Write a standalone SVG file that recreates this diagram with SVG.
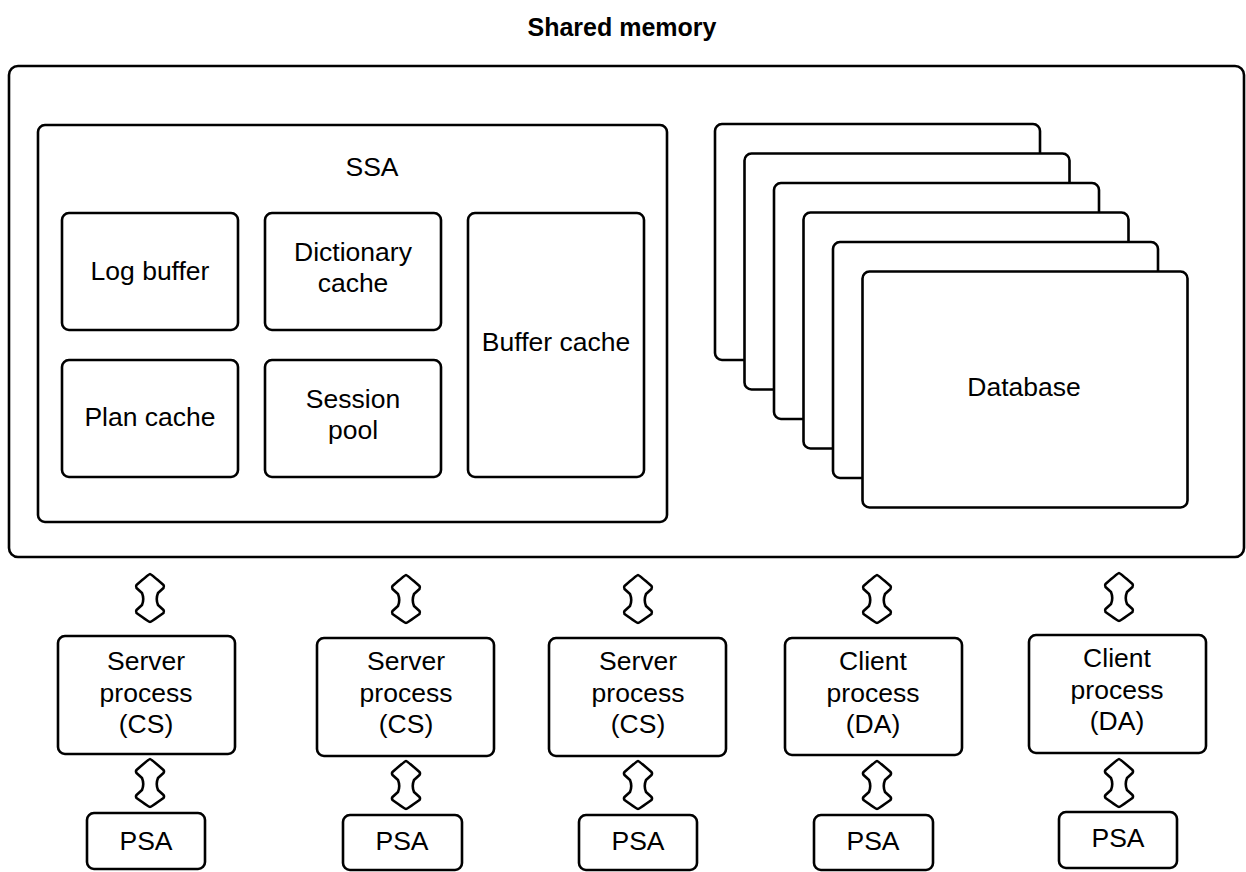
<svg xmlns="http://www.w3.org/2000/svg" width="1246" height="872" viewBox="0 0 1246 872">
<defs>
<style>
.box{fill:#fff;stroke:#000;stroke-width:2.6}
.arr{fill:#fff;stroke:#000;stroke-width:2.6;stroke-linejoin:round}
text{font-family:"Liberation Sans",Arial,sans-serif;font-size:26.5px;fill:#000;text-anchor:middle}
.title{font-weight:bold;font-size:25px}
</style>
<path id="dbl" d="M0,0 Q1,0 13.5,11 Q14.5,12.5 13.5,14 L8,19 Q5.5,25 8,31 L13.5,36 Q14.5,37.5 13.5,39 Q1,48 0,48 Q-1,48 -13.5,39 Q-14.5,37.5 -13.5,36 L-8,31 Q-5.5,25 -8,19 L-13.5,14 Q-14.5,12.5 -13.5,11 Q-1,0 0,0 Z"/>
</defs>
<rect width="1246" height="872" fill="#fff"/>
<text class="title" x="622" y="36">Shared memory</text>
<g id="shared-memory">
<rect class="box" x="9" y="66" width="1235" height="491" rx="9"/>
</g>
<g id="ssa">
<rect class="box" x="38" y="125" width="629" height="397" rx="7"/>
<text x="372" y="176">SSA</text>
</g>
<g id="log-buffer">
<rect class="box" x="62" y="213" width="176" height="117" rx="7"/>
<text x="150" y="280">Log buffer</text>
</g>
<g id="dictionary-cache">
<rect class="box" x="265" y="213" width="176" height="117" rx="7"/>
<text x="353" y="261">Dictionary</text>
<text x="353" y="292">cache</text>
</g>
<g id="buffer-cache">
<rect class="box" x="468" y="213" width="176" height="264" rx="7"/>
<text x="556" y="351">Buffer cache</text>
</g>
<g id="plan-cache">
<rect class="box" x="62" y="360" width="176" height="117" rx="7"/>
<text x="150" y="426">Plan cache</text>
</g>
<g id="session-pool">
<rect class="box" x="265" y="360" width="176" height="117" rx="7"/>
<text x="353" y="408">Session</text>
<text x="353" y="439">pool</text>
</g>
<g id="database">
<rect class="box" x="715" y="124" width="325" height="236" rx="7"/>
<rect class="box" x="744.5" y="153.5" width="325" height="236" rx="7"/>
<rect class="box" x="774" y="183" width="325" height="236" rx="7"/>
<rect class="box" x="803.5" y="212.5" width="325" height="236" rx="7"/>
<rect class="box" x="833" y="242" width="325" height="236" rx="7"/>
<rect class="box" x="862.5" y="271.5" width="325" height="236" rx="7"/>
<text x="1024" y="396">Database</text>
</g>
<g id="proc1">
<rect class="box" x="58" y="636" width="177" height="118" rx="7"/>
<text x="146" y="670">Server</text>
<text x="146" y="702">process</text>
<text x="146" y="733">(CS)</text>
</g>
<g id="proc2">
<rect class="box" x="317" y="638" width="177" height="118" rx="7"/>
<text x="406" y="670">Server</text>
<text x="406" y="702">process</text>
<text x="406" y="733">(CS)</text>
</g>
<g id="proc3">
<rect class="box" x="549" y="638" width="177" height="118" rx="7"/>
<text x="638" y="670">Server</text>
<text x="638" y="702">process</text>
<text x="638" y="733">(CS)</text>
</g>
<g id="proc4">
<rect class="box" x="785" y="638" width="177" height="117" rx="7"/>
<text x="873" y="670">Client</text>
<text x="873" y="702">process</text>
<text x="873" y="733">(DA)</text>
</g>
<g id="proc5">
<rect class="box" x="1029" y="635" width="177" height="118" rx="7"/>
<text x="1117" y="667">Client</text>
<text x="1117" y="699">process</text>
<text x="1117" y="730">(DA)</text>
</g>
<g id="psa1">
<rect class="box" x="87" y="813" width="118" height="56" rx="7"/>
<text x="146" y="850">PSA</text>
</g>
<g id="psa2">
<rect class="box" x="343" y="815" width="119" height="55" rx="7"/>
<text x="402" y="850">PSA</text>
</g>
<g id="psa3">
<rect class="box" x="579" y="815" width="118" height="55" rx="7"/>
<text x="638" y="850">PSA</text>
</g>
<g id="psa4">
<rect class="box" x="814" y="815" width="119" height="55" rx="7"/>
<text x="873" y="850">PSA</text>
</g>
<g id="psa5">
<rect class="box" x="1059" y="812" width="118" height="56" rx="7"/>
<text x="1118" y="847">PSA</text>
</g>
<g id="connectors">
<use href="#dbl" class="arr" x="150" y="574"/>
<use href="#dbl" class="arr" x="150" y="759"/>
<use href="#dbl" class="arr" x="406" y="575"/>
<use href="#dbl" class="arr" x="406" y="761"/>
<use href="#dbl" class="arr" x="638" y="575"/>
<use href="#dbl" class="arr" x="638" y="761"/>
<use href="#dbl" class="arr" x="877" y="575"/>
<use href="#dbl" class="arr" x="877" y="761"/>
<use href="#dbl" class="arr" x="1119" y="573"/>
<use href="#dbl" class="arr" x="1119" y="759"/>
</g>
</svg>
